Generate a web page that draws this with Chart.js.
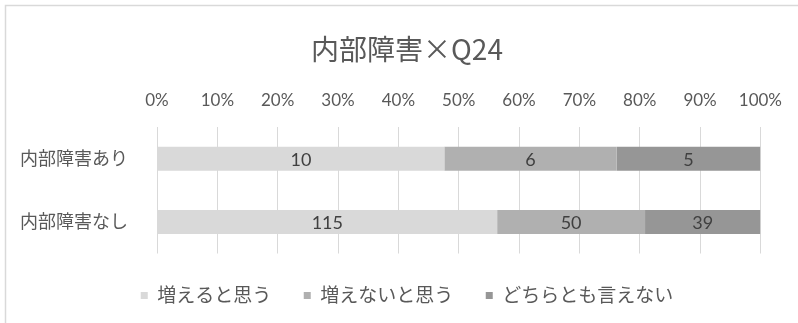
<!DOCTYPE html>
<html lang="ja">
<head>
<meta charset="utf-8">
<title>内部障害×Q24</title>
<script src="https://cdn.jsdelivr.net/npm/chart.js@4/dist/chart.umd.min.js"></script>
<style>
  html, body { margin: 0; padding: 0; background: #fff; }
  canvas { display: block; }
</style>
</head>
<body>
<canvas id="q24Chart" width="798" height="323"></canvas>
<script>
// Answer counts per group
const categories = ['内部障害あり', '内部障害なし'];
const seriesNames = ['増えると思う', '増えないと思う', 'どちらとも言えない'];
const thinkIncrease = [10, 115];
const thinkNotIncrease = [6, 50];
const cannotSay = [5, 39];
const seriesColors = ['#d9d9d9', '#b0b0b0', '#969696'];

const FONT = 'Lato, "Noto Sans CJK JP", sans-serif';
const TEXT = '#595959';

const counts = [thinkIncrease, thinkNotIncrease, cannotSay];
const totals = categories.map((_, i) => counts.reduce((s, arr) => s + arr[i], 0));

// 100% stacked: each bar segment is its share of the group total
const datasets = counts.map((arr, k) => ({
  label: seriesNames[k],
  data: arr.map((c, i) => c / totals[i] * 100),
  counts: arr,
  backgroundColor: seriesColors[k],
  borderWidth: 0,
  barPercentage: 0.38,
  categoryPercentage: 1
}));

// thin frame around the chart
const frame = {
  id: 'frame',
  beforeDraw(chart) {
    const ctx = chart.ctx;
    ctx.save();
    ctx.strokeStyle = '#d9d9d9';
    ctx.lineWidth = 1.5;
    ctx.strokeRect(5.5, 5.5, 1000, 1000);
    ctx.restore();
  }
};

// count labels centred in each segment
const countLabels = {
  id: 'countLabels',
  afterDatasetsDraw(chart) {
    const ctx = chart.ctx;
    ctx.save();
    ctx.font = '18px ' + FONT;
    ctx.fillStyle = '#404040';
    ctx.textAlign = 'center';
    ctx.textBaseline = 'middle';
    chart.data.datasets.forEach((ds, k) => {
      chart.getDatasetMeta(k).data.forEach((bar, i) => {
        const p = bar.getCenterPoint();
        ctx.fillText(String(ds.counts[i]), p.x, p.y + 1);
      });
    });
    ctx.restore();
  }
};

new Chart(document.getElementById('q24Chart'), {
  type: 'bar',
  data: { labels: categories, datasets: datasets },
  options: {
    indexAxis: 'y',
    responsive: false,
    animation: false,
    layout: { padding: { left: 16, right: 0, top: 0, bottom: 8 } },
    scales: {
      x: {
        position: 'top',
        stacked: true,
        min: 0,
        max: 100,
        ticks: {
          stepSize: 10,
          padding: 16,
          color: TEXT,
          font: { family: FONT, size: 17 },
          callback: v => v + '%'
        },
        grid: { color: '#d9d9d9', lineWidth: 1, drawTicks: false },
        border: { display: false },
        afterFit(scale) { scale.height = 50.6; }
      },
      y: {
        stacked: true,
        ticks: {
          padding: 29,
          color: TEXT,
          font: { family: FONT, size: 18 }
        },
        grid: { display: false, drawTicks: false },
        border: { display: false },
        afterFit(scale) { scale.width = 157 - 16; }
      },
      // empty strip on the right so the plot ends short of the frame
      yRight: {
        type: 'linear',
        position: 'right',
        ticks: { display: false },
        grid: { display: false, drawTicks: false },
        border: { display: false },
        afterFit(scale) { scale.width = 798 - 762; }
      }
    },
    plugins: {
      title: {
        display: true,
        text: '内部障害×Q24',
        color: TEXT,
        font: { family: '"Noto Sans CJK JP", sans-serif', size: 28, weight: 'normal' },
        padding: { top: 33, bottom: 10 }
      },
      legend: {
        position: 'bottom',
        labels: {
          boxWidth: 7,
          boxHeight: 7,
          padding: 32.5,
          color: TEXT,
          font: { family: FONT, size: 19 }
        }
      },
      tooltip: { enabled: false }
    }
  },
  plugins: [frame, countLabels]
});
</script>
</body>
</html>
